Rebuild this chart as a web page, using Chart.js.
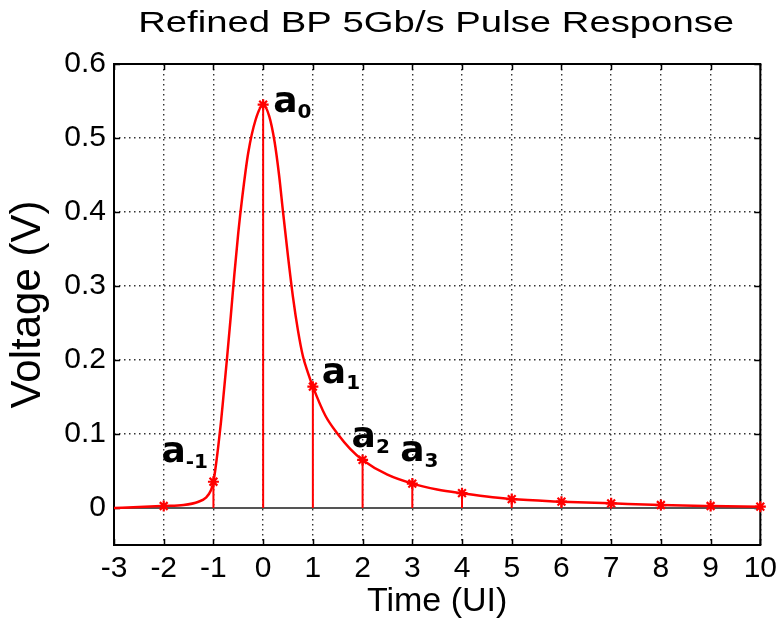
<!DOCTYPE html>
<html>
<head>
<meta charset="utf-8">
<script src="https://cdn.jsdelivr.net/npm/chart.js@4.4.0/dist/chart.umd.min.js"></script>
<style>
html,body{margin:0;padding:0;background:#fff;}
#wrap{width:783px;height:628px;position:relative;}
</style>
</head>
<body>
<div id="wrap"><canvas id="c"></canvas></div>
<script>
// ---------- data ----------
const titleText = 'Refined BP 5Gb/s Pulse Response';
const xAxisTitle = 'Time (UI)';
const yAxisTitle = 'Voltage (V)';
const xTickValues = [-3, -2, -1, 0, 1, 2, 3, 4, 5, 6, 7, 8, 9, 10];
const yTickValues = [0, 0.1, 0.2, 0.3, 0.4, 0.5, 0.6];
const yMin = -0.05;

const curveTime = [-3, -2.5, -2, -1.6, -1.3, -1.15, -1.05, -1, -0.95, -0.9, -0.85, -0.8, -0.73, -0.65, -0.58, -0.5, -0.42, -0.3, -0.15, 0,
                   0.12, 0.23, 0.32, 0.4, 0.5, 0.6, 0.7, 0.8, 0.9, 1, 1.25, 1.5, 1.75, 2, 2.5, 3, 3.5, 4, 5, 6, 7, 8, 9, 10];
const curveVoltage = [0.000, 0.0012, 0.0027, 0.004, 0.0085, 0.014, 0.024, 0.0355, 0.058, 0.085, 0.115, 0.15, 0.2, 0.26, 0.315, 0.372, 0.42, 0.48, 0.525, 0.545,
                      0.53, 0.495, 0.45, 0.4, 0.34, 0.285, 0.24, 0.205, 0.183, 0.164, 0.125, 0.1, 0.08, 0.065, 0.045, 0.033, 0.025, 0.020, 0.012, 0.0086, 0.0063, 0.004, 0.0027, 0.0018];

const sampleTime = [-2, -1, 0, 1, 2, 3, 4, 5, 6, 7, 8, 9, 10];
const sampleVoltage = [0.0027, 0.0355, 0.545, 0.164, 0.065, 0.033, 0.020, 0.012, 0.0086, 0.0063, 0.004, 0.0027, 0.0018];

const cursorBase = ['a', 'a', 'a', 'a', 'a'];
const cursorSub = ['-1', '0', '1', '2', '3'];
const cursorTime = [-1, 0, 1, 2, 3];

// ---------- styles ----------
const RED = '#ff0000';
const FONT = '"Liberation Sans", Arial, Helvetica, sans-serif';
// pixel offsets of each cursor label ('a' left edge, baseline) from its sample point
const cursorOffset = [[-52, -20], [10, 7], [9, -4], [-11, -13], [-12, -23]];

// ---------- derived datasets ----------
const curveData = curveTime.map((t, i) => ({x: t, y: curveVoltage[i]}));
const sampleData = sampleTime.map((t, i) => ({x: t, y: sampleVoltage[i]}));
const stemData = [];
sampleTime.forEach((t, i) => {
  stemData.push({x: t, y: 0});
  stemData.push({x: t, y: sampleVoltage[i]});
  stemData.push({x: t, y: null});
});
const zeroData = [{x: xTickValues[0], y: 0}, {x: xTickValues[xTickValues.length - 1], y: 0}];

// ---------- plugins ----------
const framePlugin = {
  id: 'frame',
  beforeDatasetsDraw(chart) {
    const {ctx, chartArea: a, scales} = chart;
    ctx.save();
    ctx.strokeStyle = '#000';
    ctx.lineWidth = 2;
    ctx.strokeRect(a.left, a.top, a.right - a.left, a.bottom - a.top);
    ctx.lineWidth = 1.5;
    const tl = 6;
    ctx.beginPath();
    xTickValues.forEach(v => {
      const px = Math.round(scales.x.getPixelForValue(v)) + 0.5;
      ctx.moveTo(px, a.bottom); ctx.lineTo(px, a.bottom - tl);
      ctx.moveTo(px, a.top); ctx.lineTo(px, a.top + tl);
    });
    yTickValues.forEach(v => {
      const py = Math.round(scales.y.getPixelForValue(v)) + 0.5;
      ctx.moveTo(a.left, py); ctx.lineTo(a.left + tl, py);
      ctx.moveTo(a.right, py); ctx.lineTo(a.right - tl, py);
    });
    ctx.stroke();
    ctx.restore();
  },
  afterDraw(chart) {
    const {ctx, chartArea: a, scales} = chart;
    ctx.save();
    // title (horizontally stretched like the reference)
    ctx.fillStyle = '#000';
    ctx.font = '29px ' + FONT;
    ctx.textAlign = 'center';
    ctx.textBaseline = 'alphabetic';
    const w = ctx.measureText(titleText).width;
    const targetW = 596;
    ctx.translate((a.left + a.right) / 2 - 1, 32);
    ctx.scale(targetW / w, 1);
    ctx.fillText(titleText, 0, 0);
    ctx.restore();

    // cursor labels
    ctx.save();
    ctx.fillStyle = '#000';
    ctx.textAlign = 'left';
    ctx.textBaseline = 'alphabetic';
    cursorTime.forEach((t, i) => {
      const idx = sampleTime.indexOf(t);
      const px = scales.x.getPixelForValue(t);
      const py = scales.y.getPixelForValue(sampleVoltage[idx]);
      const x0 = px + cursorOffset[i][0];
      const y0 = py + cursorOffset[i][1];
      ctx.font = 'bold 36px "DejaVu Sans", Verdana, sans-serif';
      ctx.fillText(cursorBase[i], x0, y0);
      const bw = ctx.measureText(cursorBase[i]).width;
      ctx.font = 'bold 20px "DejaVu Sans", Verdana, sans-serif';
      ctx.fillText(cursorSub[i], x0 + bw, y0 + 6);
    });
    ctx.restore();
  }
};

// ---------- chart ----------
Chart.defaults.font.family = FONT;
Chart.defaults.color = '#000';

new Chart(document.getElementById('c'), {
  type: 'scatter',
  data: {
    datasets: [
      {label: 'zero', data: zeroData, showLine: true, borderColor: '#555', borderWidth: 2, pointRadius: 0, order: 4},
      {label: 'stems', data: stemData, showLine: true, spanGaps: false, borderColor: RED, borderWidth: 2, pointRadius: 0, order: 3},
      {label: 'pulse', data: curveData, showLine: true, borderColor: RED, borderWidth: 2.5, pointRadius: 0,
       cubicInterpolationMode: 'monotone', order: 2},
      {label: 'samples', data: sampleData, showLine: false, pointStyle: 'star', pointRadius: 5.5,
       borderColor: RED, backgroundColor: RED, pointBorderWidth: 2.2, clip: false, order: 1}
    ]
  },
  options: {
    responsive: true,
    maintainAspectRatio: false,
    animation: false,
    events: [],
    layout: {padding: {top: 64, right: 20, left: 0, bottom: 0}},
    plugins: {legend: {display: false}, tooltip: {enabled: false}, title: {display: false}},
    scales: {
      x: {
        type: 'linear',
        min: xTickValues[0],
        max: xTickValues[xTickValues.length - 1],
        afterBuildTicks: s => { s.ticks = xTickValues.map(v => ({value: v})); },
        afterFit: s => { s.height = 83; },
        ticks: {font: {size: 30}, color: '#000', padding: 6, maxRotation: 0, autoSkip: false,
                callback: v => String(v)},
        grid: {color: '#333', lineWidth: 1.4, drawTicks: false},
        border: {display: false, dash: [1.5, 3.5]},
        title: {display: true, text: xAxisTitle, font: {size: 34}, color: '#000', padding: {top: 0, bottom: 6}}
      },
      y: {
        type: 'linear',
        min: yMin,
        max: yTickValues[yTickValues.length - 1],
        afterBuildTicks: s => { s.ticks = yTickValues.map(v => ({value: v})); },
        afterFit: s => { s.width = 114; },
        ticks: {font: {size: 30}, color: '#000', padding: 8, autoSkip: false,
                callback: v => (v === 0 ? '0' : Number(v).toFixed(1))},
        grid: {color: '#333', lineWidth: 1.4, drawTicks: false},
        border: {display: false, dash: [1.5, 3.5]},
        title: {display: true, text: yAxisTitle, font: {size: 42}, color: '#000', padding: {top: 3, bottom: 0}}
      }
    }
  },
  plugins: [framePlugin]
});
</script>
</body>
</html>
